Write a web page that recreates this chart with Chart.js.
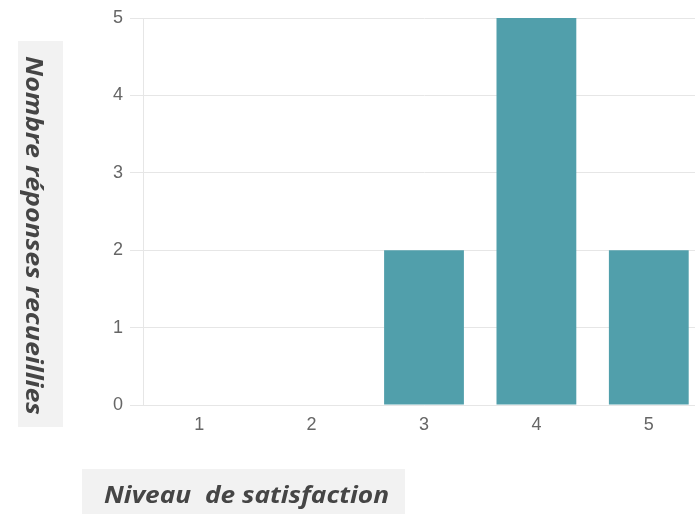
<!DOCTYPE html>
<html><head><meta charset="utf-8">
<script src="https://cdn.jsdelivr.net/npm/chart.js@4.4.0/dist/chart.umd.min.js"></script>
<style>html,body{margin:0;padding:0;overflow:hidden;background:#fff;width:695px;height:514px}canvas{display:block}</style>
</head><body><canvas id="c" width="705" height="514"></canvas>
<script>
const categories = ['1', '2', '3', '4', '5'];
const responses = [0, 0, 2, 5, 2];
const yTicks = [0, 1, 2, 3, 4, 5];
const xTitle = 'Niveau  de satisfaction';
const yTitle = 'Nombre réponses recueillies';

function fitText(ctx, text, size, targetW) {
  ctx.font = 'italic bold ' + size + 'px "Open Sans"';
  const w = ctx.measureText(text).width;
  return targetW / w;
}

const titleBoxes = {
  id: 'titleBoxes',
  beforeDraw(chart) {
    const ctx = chart.ctx;
    ctx.save();
    ctx.fillStyle = '#f2f2f2';
    ctx.fillRect(18, 41, 45, 386);
    ctx.fillRect(82, 469, 323, 50);
    ctx.fillStyle = '#454545';
    ctx.textAlign = 'center';
    ctx.textBaseline = 'alphabetic';
    // y title (rotated clockwise)
    let sx = fitText(ctx, yTitle, 23, 359);
    ctx.save();
    ctx.translate(26, 235.5);
    ctx.rotate(Math.PI / 2);
    ctx.scale(sx, 1);
    ctx.fillText(yTitle, 0, 0);
    ctx.restore();
    // x title
    sx = fitText(ctx, xTitle, 23, 285);
    ctx.save();
    ctx.translate(246.5, 503);
    ctx.scale(sx, 1);
    ctx.fillText(xTitle, 0, 0);
    ctx.restore();
    ctx.restore();
  }
};

new Chart(document.getElementById('c'), {
  type: 'bar',
  data: {
    labels: categories,
    datasets: [{
      data: responses,
      backgroundColor: '#519fab',
      borderWidth: 0,
      barPercentage: 0.71,
      categoryPercentage: 1
    }]
  },
  options: {
    responsive: false,
    animation: false,
    devicePixelRatio: 1,
    layout: { padding: { top: 18, right: 0, bottom: 69, left: 0 } },
    plugins: { legend: { display: false }, tooltip: { enabled: false } },
    scales: {
      x: {
        grid: { display: false },
        border: { display: true, color: '#e6e6e6' },
        ticks: { color: '#666', font: { family: 'Liberation Sans', size: 18 }, padding: 1 },
        afterFit: s => { s.height = 40; }
      },
      y: {
        min: 0, max: 5,
        afterBuildTicks: s => { s.ticks = yTicks.map(v => ({ value: v })); },
        grid: { color: '#e6e6e6', lineWidth: 1, tickLength: 13 },
        border: { display: true, color: '#e6e6e6' },
        ticks: { color: '#666', font: { family: 'Liberation Sans', size: 18 }, padding: 7 },
        afterFit: s => { s.width = 143; }
      }
    }
  },
  plugins: [titleBoxes]
});
</script>
</body></html>
